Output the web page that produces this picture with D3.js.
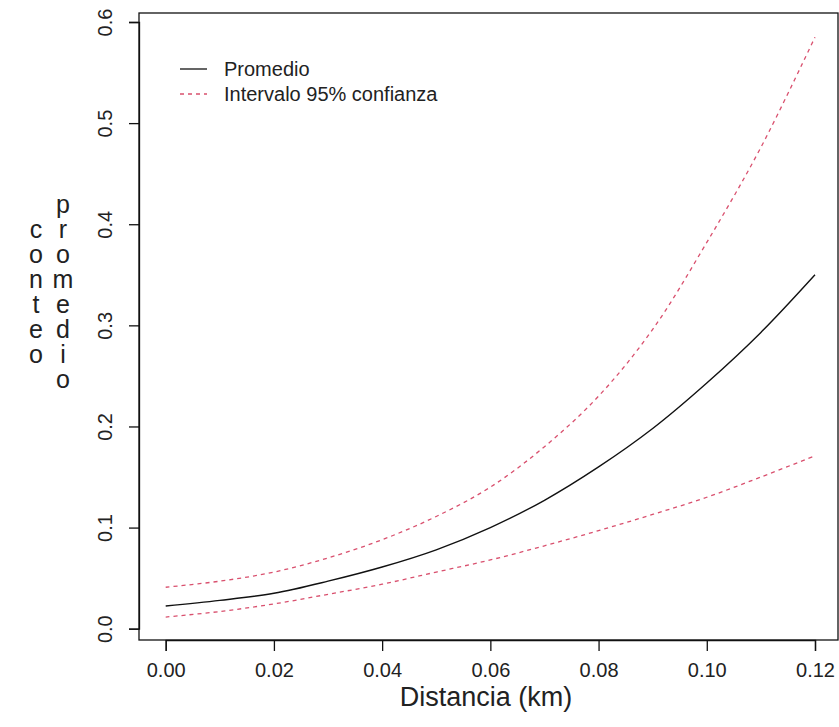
<!DOCTYPE html>
<html>
<head>
<meta charset="utf-8">
<script src="https://cdn.jsdelivr.net/npm/d3@7"></script>
<style>
  html, body { margin: 0; padding: 0; background: #fff; }
  svg text { font-family: "Liberation Sans", Arial, Helvetica, sans-serif; fill: #222; }
  .vtitle { writing-mode: vertical-rl; text-orientation: upright; letter-spacing: -3px; }
</style>
</head>
<body>
<svg id="chart" width="839" height="727"></svg>
<script>
// ---- data ----
const distancia = [0.00, 0.01, 0.02, 0.03, 0.04, 0.05, 0.06, 0.07, 0.08, 0.09, 0.10, 0.11, 0.12];
const promedio  = [0.0225, 0.028, 0.035, 0.047, 0.061, 0.078, 0.100, 0.127, 0.160, 0.198, 0.243, 0.293, 0.350];
const superior  = [0.041, 0.047, 0.056, 0.070, 0.088, 0.111, 0.140, 0.180, 0.230, 0.296, 0.382, 0.476, 0.585];
const inferior  = [0.0115, 0.017, 0.0245, 0.034, 0.044, 0.056, 0.068, 0.082, 0.097, 0.113, 0.130, 0.150, 0.171];
const xTicks = [0.00, 0.02, 0.04, 0.06, 0.08, 0.10, 0.12];
const yTicks = [0.0, 0.1, 0.2, 0.3, 0.4, 0.5, 0.6];
const legendLabels = ["Promedio", "Intervalo 95% confianza"];
const xTitle = "Distancia (km)";
const yTitle1 = "conteo";
const yTitle2 = "promedio";

// ---- layout ----
const svg = d3.select("#chart");
const box = { left: 139, top: 13, right: 838, bottom: 640 };
const x = d3.scaleLinear().domain([0, 0.12]).range([165.7, 815]);
const y = d3.scaleLinear().domain([0, 0.6]).range([628.7, 22]);
const red = "#D9506E";

// plot box
svg.append("rect")
  .attr("x", box.left).attr("y", box.top)
  .attr("width", box.right - box.left).attr("height", box.bottom - box.top)
  .attr("fill", "none").attr("stroke", "#111").attr("stroke-width", 1.3);

// x axis
const xAxis = svg.append("g")
  .attr("transform", `translate(0,${box.bottom})`)
  .call(d3.axisBottom(x).tickValues(xTicks).tickFormat(d3.format(".2f")).tickSize(11).tickPadding(12));
xAxis.select(".domain").attr("stroke", "#111").attr("stroke-width", 1.3);
xAxis.selectAll(".tick line").attr("stroke", "#111").attr("stroke-width", 1.3);
xAxis.selectAll(".tick text").attr("font-size", 20).attr("fill", "#222")
  .style("font-family", '"Liberation Sans", Arial, sans-serif');

// y axis
const yAxis = svg.append("g")
  .attr("transform", `translate(${box.left},0)`)
  .call(d3.axisLeft(y).tickValues(yTicks).tickFormat(d3.format(".1f")).tickSize(10).tickPadding(0));
yAxis.select(".domain").attr("stroke", "#111").attr("stroke-width", 1.3);
yAxis.selectAll(".tick line").attr("stroke", "#111").attr("stroke-width", 1.3);
yAxis.selectAll(".tick text")
  .attr("font-size", 20).attr("fill", "#222")
  .style("font-family", '"Liberation Sans", Arial, sans-serif')
  .attr("x", null)
  .attr("text-anchor", "middle")
  .attr("transform", "translate(-34,0) rotate(-90)")
  .attr("dy", "0.35em");

// x title
svg.append("text")
  .attr("x", 486).attr("y", 706)
  .attr("text-anchor", "middle").attr("font-size", 27)
  .text(xTitle);

// y titles (letters stacked vertically, upright)
function stack(word, cx, centerY) {
  svg.append("text")
    .attr("class", "vtitle")
    .attr("x", cx)
    .attr("y", centerY)
    .attr("text-anchor", "middle")
    .attr("font-size", 25)
    .text(word);
}
stack(yTitle1, 36, 290);
stack(yTitle2, 63, 290);

// lines
const idx = d3.range(distancia.length);
const line = arr => d3.line()
  .x(i => x(distancia[i]))
  .y(i => y(arr[i]))
  .curve(d3.curveCatmullRom.alpha(0.5))(idx);

svg.append("path").attr("d", line(superior))
  .attr("fill", "none").attr("stroke", red).attr("stroke-width", 1.3).attr("stroke-dasharray", "4,4");
svg.append("path").attr("d", line(inferior))
  .attr("fill", "none").attr("stroke", red).attr("stroke-width", 1.3).attr("stroke-dasharray", "4,4");
svg.append("path").attr("d", line(promedio))
  .attr("fill", "none").attr("stroke", "#111").attr("stroke-width", 1.4);

// legend
const legend = svg.append("g");
legendLabels.forEach((lab, i) => {
  const ly = 69 + i * 25;
  legend.append("line")
    .attr("x1", 180).attr("x2", 207).attr("y1", ly).attr("y2", ly)
    .attr("stroke", i === 0 ? "#111" : red)
    .attr("stroke-width", 1.3)
    .attr("stroke-dasharray", i === 0 ? null : "4,4");
  legend.append("text")
    .attr("x", 224).attr("y", ly + 7)
    .attr("font-size", 20)
    .text(lab);
});
</script>
</body>
</html>
